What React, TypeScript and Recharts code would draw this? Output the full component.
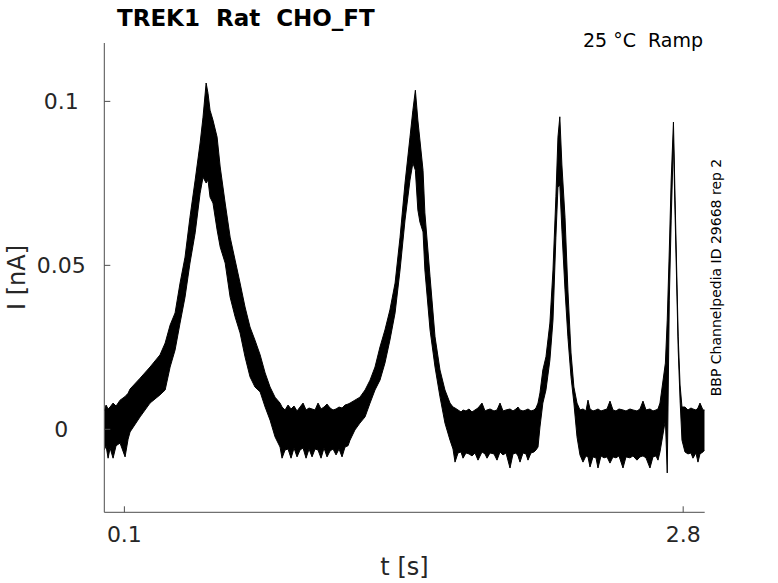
import React from "react";
import { ComposedChart, Area, XAxis, YAxis } from "recharts";

// time [s]
const T = [
  0.003, 0.0116, 0.0213, 0.0309, 0.0454, 0.0599, 0.0792, 0.1034, 0.1179, 0.1275,
  0.176, 0.224, 0.272, 0.297, 0.321, 0.345, 0.369, 0.393, 0.417, 0.442, 0.466, 0.48, 0.495, 0.504, 0.514,
  0.528, 0.548, 0.563, 0.587, 0.611, 0.635, 0.659, 0.683, 0.707, 0.731, 0.756, 0.78, 0.804, 0.828,
  0.8522, 0.8618, 0.8763, 0.8908, 0.9053, 0.9198, 0.9343, 0.9488, 0.9633, 0.9778, 0.9923, 1.0068, 1.0213,
  1.0357, 1.0502, 1.0647, 1.0792, 1.0937, 1.1082, 1.1227, 1.1372, 1.1517, 1.1662, 1.1807, 1.1903,
  1.214, 1.238, 1.263, 1.287, 1.311, 1.335, 1.359, 1.383, 1.408, 1.432, 1.456,
  1.48, 1.494, 1.506, 1.518, 1.528, 1.543, 1.552, 1.577, 1.601, 1.625, 1.649,
  1.6734, 1.6879, 1.6976, 1.7121, 1.7266, 1.7362, 1.7507, 1.7652, 1.7797, 1.7942, 1.8087, 1.828, 1.8425, 1.8522, 1.8667, 1.886,
  1.9005, 1.915, 1.9295, 1.944, 1.9633, 1.9778, 1.9923, 2.0019, 2.0116, 2.0261, 2.0406, 2.0502, 2.0647, 2.0792, 2.0889, 2.0986,
  2.108, 2.122, 2.137, 2.156, 2.171, 2.185, 2.195, 2.204, 2.214, 2.229, 2.243, 2.258, 2.272, 2.287,
  2.3014, 2.3159, 2.3304, 2.3401, 2.3498, 2.3643, 2.3787, 2.3884, 2.4029, 2.4174, 2.4319, 2.4464, 2.4609, 2.4754,
  2.4899, 2.5092, 2.5237, 2.543, 2.5575, 2.5768, 2.5913, 2.6058, 2.6203, 2.6396, 2.6541, 2.6686, 2.6783, 2.6879,
  2.714, 2.723, 2.733, 2.742, 2.753, 2.761, 2.776, 2.785,
  2.7942, 2.8087, 2.8232, 2.8377, 2.8473, 2.8618, 2.8715, 2.8812, 2.8957, 2.904,
];
// upper envelope of the noisy current [nA]
const I_HIGH = [
  0.0056, 0.0074, 0.0062, 0.0068, 0.008, 0.0071, 0.0089, 0.01, 0.011, 0.0123,
  0.0156, 0.019, 0.0227, 0.0263, 0.0318, 0.0355, 0.0446, 0.0525, 0.0647, 0.076, 0.0873, 0.0952, 0.1056, 0.1025, 0.0973,
  0.0943, 0.0891, 0.08, 0.069, 0.0586, 0.0516, 0.0446, 0.0373, 0.0312, 0.0272, 0.0227, 0.0172, 0.0129, 0.0098,
  0.008, 0.0068, 0.0059, 0.0074, 0.0062, 0.0071, 0.0056, 0.0068, 0.008, 0.0059, 0.0065, 0.0062, 0.0059,
  0.008, 0.0062, 0.0068, 0.0077, 0.0065, 0.0059, 0.0062, 0.0068, 0.0065, 0.0074, 0.0077, 0.008,
  0.0089, 0.0098, 0.012, 0.015, 0.019, 0.0251, 0.0303, 0.0364, 0.0446, 0.0586, 0.0751,
  0.0891, 0.0973, 0.1034, 0.0943, 0.0882, 0.079, 0.066, 0.0465, 0.0282, 0.0181, 0.012,
  0.008, 0.0068, 0.0065, 0.0059, 0.0053, 0.0059, 0.0056, 0.0062, 0.0053, 0.0059, 0.0065, 0.008, 0.0056, 0.0059, 0.0062, 0.0056,
  0.0059, 0.008, 0.0056, 0.0059, 0.0062, 0.0056, 0.0062, 0.0068, 0.0059, 0.0056, 0.0059, 0.0062, 0.0056, 0.0059, 0.0065, 0.008,
  0.0111, 0.0181, 0.0221, 0.0324, 0.0486, 0.0709, 0.0891, 0.0953, 0.0806, 0.0647, 0.0425, 0.0233, 0.0129, 0.008,
  0.0059, 0.0062, 0.0056, 0.0089, 0.0062, 0.0056, 0.0059, 0.0062, 0.0056, 0.0059, 0.0062, 0.0086, 0.0059, 0.0056,
  0.0062, 0.0059, 0.0056, 0.0062, 0.0059, 0.0056, 0.0062, 0.0086, 0.0059, 0.0062, 0.0056, 0.0059, 0.0062, 0.008,
  0.0202, 0.0333, 0.0547, 0.076, 0.0937, 0.0699, 0.0282, 0.0135,
  0.0068, 0.0068, 0.0059, 0.0065, 0.0062, 0.0059, 0.0065, 0.008, 0.0059, 0.0059,
];
// lower envelope of the noisy current [nA]
const I_LOW = [
  -0.0063, -0.005, -0.0088, -0.0057, -0.0088, -0.005, -0.0042, -0.0084, -0.003, -0.0008,
  0.0038, 0.008, 0.0105, 0.012, 0.019, 0.0242, 0.0324, 0.0403, 0.0507, 0.0599, 0.072, 0.0769, 0.0751, 0.076, 0.0708,
  0.069, 0.0608, 0.0556, 0.0507, 0.0403, 0.0343, 0.0294, 0.0221, 0.016, 0.0129, 0.0114, 0.0068, 0.0028, -0.0023,
  -0.0054, -0.0088, -0.0063, -0.006, -0.0088, -0.0057, -0.0084, -0.0063, -0.0057, -0.0088, -0.006, -0.0084, -0.006,
  -0.0063, -0.0088, -0.0057, -0.0084, -0.0066, -0.006, -0.0078, -0.006, -0.0084, -0.0054, -0.005, -0.0033,
  -0.0002, 0.0019, 0.0038, 0.008, 0.012, 0.015, 0.0202, 0.0272, 0.0355, 0.0486, 0.0638,
  0.076, 0.0812, 0.079, 0.0669, 0.0632, 0.0602, 0.0486, 0.0303, 0.019, 0.0099, 0.0019,
  -0.0033, -0.006, -0.01, -0.0072, -0.0069, -0.0088, -0.0072, -0.0075, -0.0081, -0.0072, -0.0094, -0.0069, -0.0075, -0.0088, -0.0072, -0.0075,
  -0.0094, -0.0069, -0.0078, -0.0072, -0.0118, -0.0075, -0.0072, -0.0081, -0.01, -0.0072, -0.0075, -0.0094, -0.0072, -0.0069, -0.0063, -0.0054,
  0.0007, 0.008, 0.012, 0.0211, 0.0333, 0.0586, 0.0739, 0.0745, 0.0608, 0.0425, 0.0282, 0.016, 0.008, -0.0023,
  -0.0078, -0.01, -0.0081, -0.0084, -0.0115, -0.0084, -0.0087, -0.0118, -0.0081, -0.0087, -0.0084, -0.0103, -0.0084, -0.0087,
  -0.0081, -0.0118, -0.0084, -0.0087, -0.0081, -0.0094, -0.0084, -0.0081, -0.0087, -0.0118, -0.0084, -0.0081, -0.0094, -0.0069,
  0.0028, -0.0133, 0.0394, 0.0638, 0.0882, 0.0653, 0.0242, 0.0089,
  -0.0033, -0.0069, -0.0075, -0.0072, -0.0088, -0.0072, -0.01, -0.0075, -0.0069, -0.0063,
];

const X_DOMAIN = [0.003, 2.904];
const Y_DOMAIN = [-0.0253, 0.1178];
const X_TICKS = [0.1, 2.8];
const Y_TICKS = [0, 0.05, 0.1];
const Y_TICK_LABELS = ["0", "0.05", "0.1"];

const FONT = "DejaVu Sans, Verdana, sans-serif";
const AXIS_COLOR = "#4d4d4d";
const TEXT_COLOR = "#262626";

const N = Math.min(T.length, I_HIGH.length, I_LOW.length);
const data = T.slice(0, N).map((t, i) => ({ t, band: [I_LOW[i], I_HIGH[i]] }));

const XTick = (props: any) => {
  const { x, y, payload } = props;
  return (
    <g>
      <line x1={x} y1={y} x2={x} y2={y - 6} stroke={AXIS_COLOR} strokeWidth={1} />
      <text x={x} y={y + 29.5} textAnchor="middle" fontSize={22} fontFamily={FONT} fill={TEXT_COLOR}>
        {String(payload.value)}
      </text>
    </g>
  );
};

const YTick = (props: any) => {
  const { x, y, payload } = props;
  const idx = Y_TICKS.indexOf(payload.value);
  const label = idx >= 0 ? Y_TICK_LABELS[idx] : String(payload.value);
  return (
    <g>
      <line x1={x} y1={y} x2={x + 6} y2={y} stroke={AXIS_COLOR} strokeWidth={1} />
      <text x={x - 43} y={y + 8} textAnchor="middle" fontSize={22} fontFamily={FONT} fill={TEXT_COLOR}>
        {label}
      </text>
    </g>
  );
};

export default function App() {
  const W = 778;
  const H = 583;
  return (
    <div style={{ position: "relative", width: W, height: H }}>
      <style>{`body{margin:0;}`}</style>
      <ComposedChart
        width={W}
        height={H}
        data={data}
        margin={{ top: 43, right: 73.3, bottom: 30.7, left: 44.3 }}
      >
        <XAxis
          type="number"
          dataKey="t"
          domain={X_DOMAIN}
          ticks={X_TICKS}
          allowDataOverflow
          height={40}
          tickSize={0}
          tickMargin={0}
          tickLine={false}
          axisLine={{ stroke: AXIS_COLOR, strokeWidth: 1 }}
          tick={<XTick />}
          interval={0}
        />
        <YAxis
          type="number"
          domain={Y_DOMAIN}
          ticks={Y_TICKS}
          allowDataOverflow
          width={60}
          tickSize={0}
          tickMargin={0}
          tickLine={false}
          axisLine={{ stroke: AXIS_COLOR, strokeWidth: 1 }}
          tick={<YTick />}
          interval={0}
        />
        <Area
          type="linear"
          dataKey="band"
          stroke="#000"
          strokeWidth={1}
          fill="#000"
          fillOpacity={1}
          isAnimationActive={false}
          dot={false}
          activeDot={false}
        />
      </ComposedChart>
      <svg
        width={W}
        height={H}
        style={{ position: "absolute", left: 0, top: 0, pointerEvents: "none" }}
      >
        <text x={117} y={26} fontSize={23} fontWeight="bold" fontFamily={FONT} fill="#000" style={{ whiteSpace: "pre" }}>
          {"TREK1  Rat  CHO_FT"}
        </text>
        <text x={703} y={47} textAnchor="end" fontSize={19} fontFamily={FONT} fill="#000" style={{ whiteSpace: "pre" }}>
          {"25 °C  Ramp"}
        </text>
        <text x={404.5} y={575} textAnchor="middle" fontSize={24} fontFamily={FONT} fill={TEXT_COLOR}>
          t [s]
        </text>
        <text
          x={25}
          y={277.5}
          textAnchor="middle"
          fontSize={24}
          fontFamily={FONT}
          fill={TEXT_COLOR}
          transform="rotate(-90 25 277.5)"
        >
          I [nA]
        </text>
        <text
          x={721}
          y={277.5}
          textAnchor="middle"
          fontSize={14}
          fontFamily={FONT}
          fill="#000"
          transform="rotate(-90 721 277.5)"
        >
          BBP Channelpedia ID 29668 rep 2
        </text>
      </svg>
    </div>
  );
}
